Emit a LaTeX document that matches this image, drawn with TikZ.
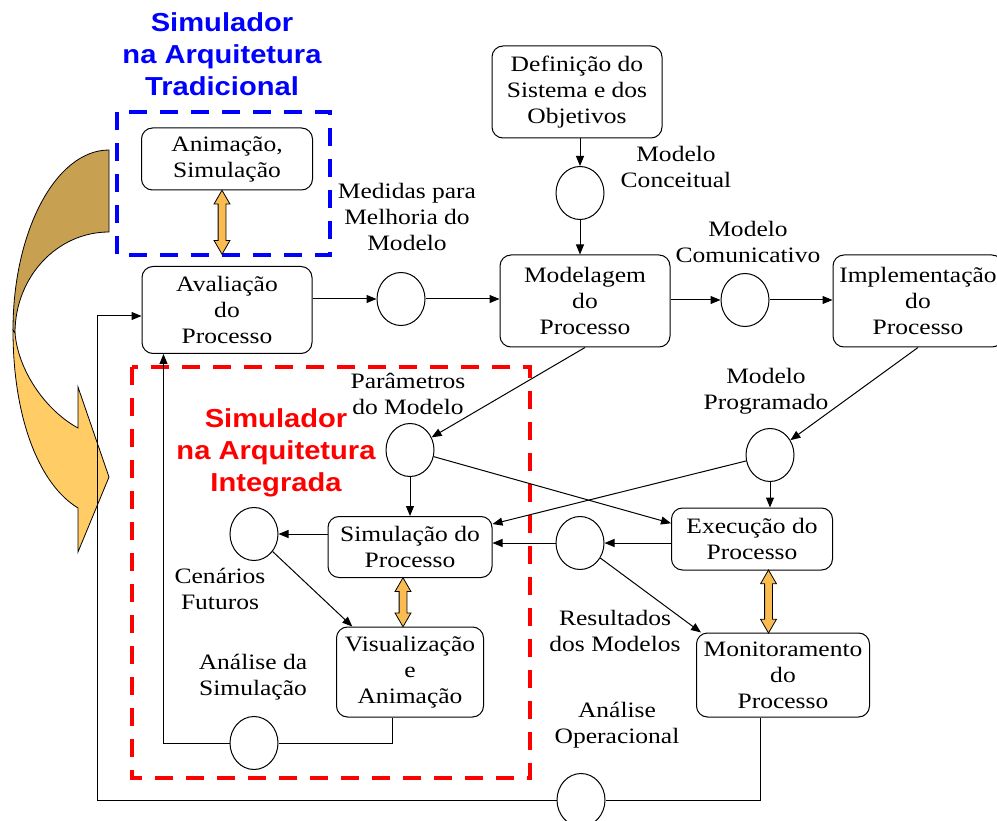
\documentclass[tikz,border=0pt]{standalone}
\usepackage{fontspec}
\setmainfont{Liberation Serif}[FakeStretch=1.16]
\newfontfamily\headfont{Liberation Sans}[FakeStretch=1.12]
\usetikzlibrary{arrows.meta,shapes.geometric,shapes.arrows,calc}
\definecolor{tanback}{RGB}{200,160,82}
\definecolor{tanfront}{RGB}{255,204,102}
\definecolor{swapfill}{RGB}{250,188,80}
\definecolor{tradblue}{RGB}{0,0,255}
\definecolor{integred}{RGB}{255,0,0}
\begin{document}
\begin{tikzpicture}[x=1pt,y=-1pt,
  txt/.style={font=\fontsize{22}{26}\selectfont},
  box/.style={draw, rounded corners=11pt, line width=1pt, align=center, inner sep=0pt, txt},
  port/.style={draw, ellipse, line width=1pt, minimum width=48pt, minimum height=53pt, inner sep=0pt},
  lbl/.style={align=center, inner sep=0pt, txt},
  flow/.style={-{Triangle[length=10pt,width=8pt]}, line width=1pt},
  link/.style={line width=1pt},
  swap/.style={double arrow, draw, fill=swapfill, line width=0.8pt, rotate=90,
    inner sep=3.5pt, double arrow head extend=4pt, double arrow tip angle=60},
  headline/.style={align=center, inner sep=0pt, font=\headfont\bfseries\fontsize{26}{32}\selectfont},
  frame/.style={line width=3.5pt, dash pattern=on 18pt off 13pt}
]
\useasboundingbox (0,0) rectangle (997,821);
\clip (0,0) rectangle (997,821);

% curved transition arrow on the left
\draw[fill=tanback, line width=0.8pt]
  (109,150) .. controls (56,150) and (13,231) .. (13,330)
  .. controls (15,333) .. (15,333)
  .. controls (15,277) and (57,232) .. (109,232) -- cycle;
\draw[fill=tanfront, line width=0.8pt]
  (13,330) .. controls (13,420) and (40,485) .. (78,508)
  -- (78,552) -- (109,477) -- (78,387) -- (78,428)
  .. controls (45,410) and (18,370) .. (15,333) -- cycle;

% dashed frames
\draw[frame, tradblue] (117,112) rectangle (330,255);
\draw[frame, integred] (132,367) rectangle (530,778);

% titles
\node[headline, text=tradblue] (ttrad) at (222,54) {Simulador\\na Arquitetura\\Tradicional};
\node[headline, text=integred] (tint) at (276,453) {Simulador\\na Arquitetura\\Integrada};

% process boxes
\node[box, minimum width=170pt, minimum height=92pt] (def) at (577,92) {Definição do\\Sistema e dos\\Objetivos};
\node[box, minimum width=170pt, minimum height=92pt] (modl) at (585,301) {Modelagem\\do\\Processo};
\node[box, minimum width=170pt, minimum height=87pt] (aval) at (227,310) {Avaliação\\do\\Processo};
\node[box, minimum width=171pt, minimum height=62pt] (anim) at (227,159) {Animação,\\Simulação};
\node[box, minimum width=170pt, minimum height=92pt] (impl) at (918,301) {Implementação\\do\\Processo};
\node[box, minimum width=164pt, minimum height=61pt] (sim) at (410,547) {Simulação do\\Processo};
\node[box, minimum width=147pt, minimum height=90pt] (vis) at (410,672) {Visualização\\e\\Animação};
\node[box, minimum width=161pt, minimum height=62pt] (exe) at (752,539) {Execução do\\Processo};
\node[box, minimum width=173pt, minimum height=84pt] (mon) at (783,675) {Monitoramento\\do\\Processo};

% model hand-off points
\node[port] (cC) at (580,193) {};
\node[port] (cM) at (401,299) {};
\node[port] (cK) at (745,300) {};
\node[port] (cP) at (410,450) {};
\node[port] (cR) at (770,455) {};
\node[port] (cF) at (254,534) {};
\node[port] (cA) at (254,743) {};
\node[port] (cX) at (580,543) {};
\node[port] (cO) at (581,800) {};

% labels
\node[lbl] (lC) at (676,167) {Modelo\\Conceitual};
\node[lbl] (lM) at (407,217) {Medidas para\\Melhoria do\\Modelo};
\node[lbl] (lK) at (748,242) {Modelo\\Comunicativo};
\node[lbl] (lR) at (766,391) {Modelo\\Programado};
\node[lbl] (lP) at (408,394) {Parâmetros\\do Modelo};
\node[lbl] (lF) at (220,589) {Cenários\\Futuros};
\node[lbl] (lA) at (253,677) {Análise da\\Simulação};
\node[lbl] (lX) at (615,631) {Resultados\\dos Modelos};
\node[lbl] (lO) at (617,725) {Análise\\Operacional};

% two-way links
\node[swap, minimum height=64pt] (dA) at ($(anim.south)!.5!(aval.north)+(-5,-6)$) {};
\node[swap, minimum height=49pt] (dS) at ($(sim.south)!.5!(vis.north)+(-7,0)$) {};
\node[swap, minimum height=63pt] (dE) at ($(exe.south)!.5!(mon.north)+(1,0)$) {};

% main flow
\draw[flow] (cC.north |- def.south) -- (cC.north);
\draw[flow] (cC.south) -- (cC.south |- modl.north);
\draw[flow] (aval.east |- cM.west) -- (cM.west);
\draw[flow] (cM.east) -- (cM.east -| modl.west);
\draw[flow] (modl.east |- cK.west) -- (cK.west);
\draw[flow] (cK.east) -- (cK.east -| impl.west);
\draw[flow] (impl.south) -- (cR);
\draw[flow] (modl.south) -- (cP);
\draw[flow] (cP) -- ($(exe.north west)!0.25!(exe.south west)$);
\draw[flow] (cR.south) -- (cR.south |- exe.north);
\draw[flow] (cR) -- ($(sim.north east)!0.13!(sim.south east)$);
\draw[flow] (exe.west |- cX.east) -- (cX.east);
\draw[flow] (cX.west) -- (cX.west -| sim.east);
\draw[flow] (cX) -- ($(mon.north west)+(5,0)$);
\draw[flow] (cP.south) -- (cP.south |- sim.north);
\draw[flow] (sim.west |- cF.east) -- (cF.east);
\draw[flow] (cF) -- ($(vis.north west)!0.11!(vis.north east)$);

% feedback loops
\coordinate (visout) at ($(vis.south)+(-18,0)$);
\draw[link] (visout) |- (cA.east);
\coordinate (avalin) at ($(aval.south west)+(22,0)$);
\draw[flow] (cA.west) -| (avalin);
\coordinate (monout) at ($(mon.south)+(-23,0)$);
\draw[link] (monout) |- (cO.east);
\coordinate (loopcorner) at (97,316);
\draw[flow] (cO.west) -| (loopcorner) -- (loopcorner -| aval.west);
\end{tikzpicture}
\end{document}
